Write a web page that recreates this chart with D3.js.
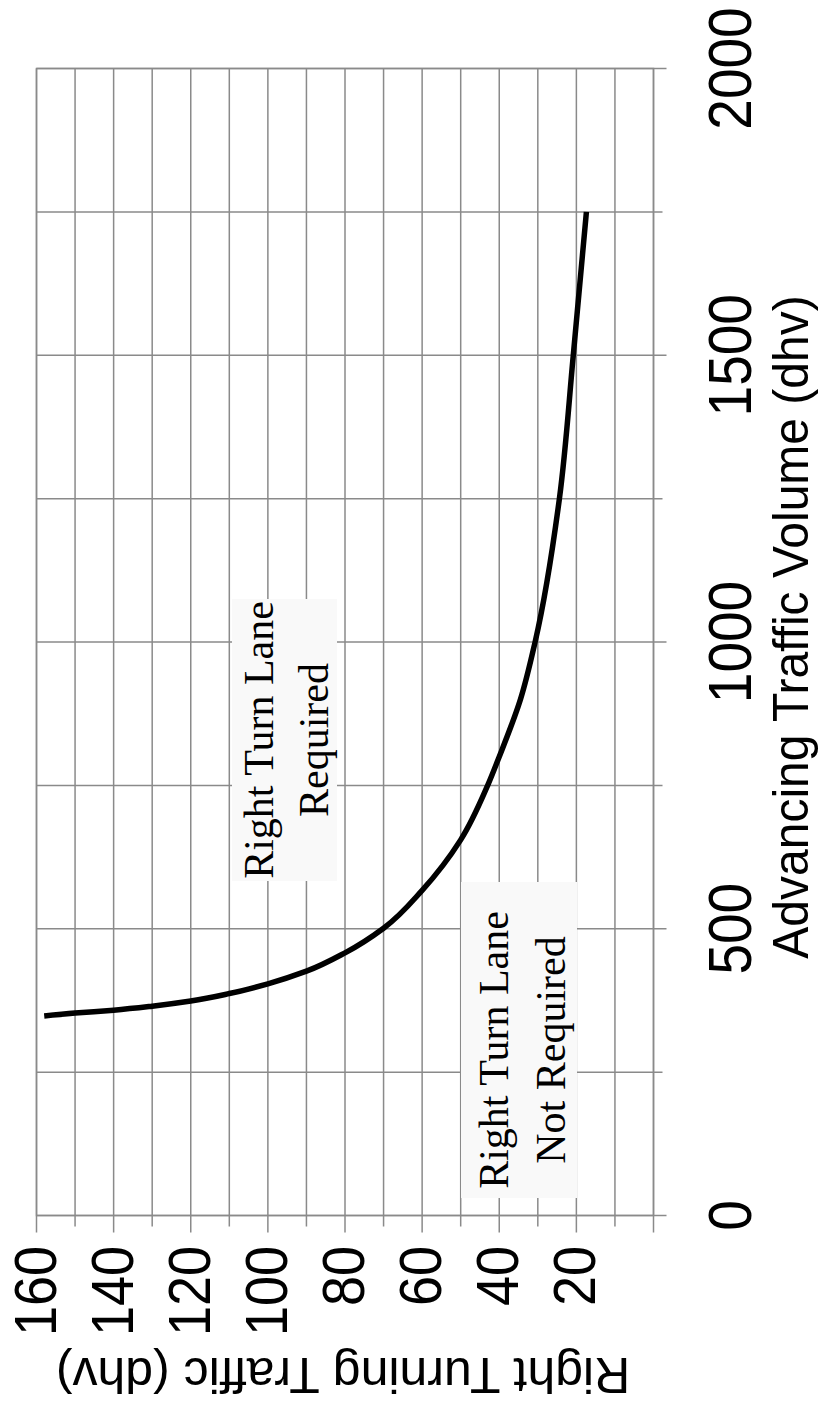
<!DOCTYPE html>
<html>
<head>
<meta charset="utf-8">
<script src="https://cdn.jsdelivr.net/npm/d3@7"></script>
<style>
  html, body { margin: 0; padding: 0; background: #ffffff; }
  svg { display: block; }
</style>
</head>
<body>
<svg id="chart" width="822" height="1406"></svg>
<script>
// ---- data ----
const volumeTicks = [0, 500, 1000, 1500, 2000];
const volumeMinorTicks = [250, 750, 1250, 1750];
const turnTicks = [20, 40, 60, 80, 100, 120, 140, 160];
const turnMajorNoLabel = [0];
const turnMinorTicks = [10, 30, 50, 70, 90, 110, 130, 150];

const advancingVolume = [348, 353, 358, 365, 374, 387, 404, 426, 458, 501, 567, 655, 750, 800, 900, 1000, 1250, 1500, 1750];
const rightTurning    = [158, 150, 140, 130, 120, 110, 100,  90,  80,  70,  60,  50,  43,  40, 34.5, 30.7, 24.4, 20.8, 17.4];

const xTitle = "Advancing Traffic Volume (dhv)";
const yTitle = "Right Turning Traffic (dhv)";
const noteRequired = ["Right Turn Lane", "Required"];
const noteNotRequired = ["Right Turn Lane", "Not Required"];

// ---- layout (chart is drawn rotated 90° counter-clockwise) ----
const svg = d3.select("#chart");
const plot = { left: 36.5, right: 653.5, top: 68.5, bottom: 1215.5 };
const gridColor = "#8a8a8a";

// volume -> vertical page position, right-turn -> horizontal page position
const vScale = d3.scaleLinear().domain([0, 2000]).range([plot.bottom, plot.top]);
const tScale = d3.scaleLinear().domain([0, 160]).range([plot.right, plot.left]);

const g = svg.append("g");

// gridlines for right-turning traffic (vertical in page) with tick extensions
const allTurn = turnMinorTicks.map(v => ({v, major: false}))
  .concat(turnTicks.concat(turnMajorNoLabel).map(v => ({v, major: true})));
g.selectAll("line.tgrid").data(allTurn).join("line")
  .attr("class", "tgrid")
  .attr("x1", d => tScale(d.v)).attr("x2", d => tScale(d.v))
  .attr("y1", plot.top).attr("y2", d => plot.bottom + (d.major ? 17 : 11))
  .attr("stroke", gridColor).attr("stroke-width", 1.5);

// gridlines for volume (horizontal in page)
const allVol = volumeMinorTicks.map(v => ({v, major: false}))
  .concat(volumeTicks.map(v => ({v, major: true})));
g.selectAll("line.vgrid").data(allVol).join("line")
  .attr("class", "vgrid")
  .attr("y1", d => vScale(d.v)).attr("y2", d => vScale(d.v))
  .attr("x1", plot.left).attr("x2", d => plot.right + (d.major ? 13 : 9))
  .attr("stroke", gridColor).attr("stroke-width", 1.5);

// annotation boxes (cover gridlines)
function note(lines, cy, baselines, box) {
  g.append("rect")
    .attr("x", box[0]).attr("y", box[1])
    .attr("width", box[2] - box[0]).attr("height", box[3] - box[1])
    .attr("fill", "#f9f9f9");
  lines.forEach((t, i) => {
    g.append("text")
      .attr("transform", `translate(${baselines[i]},${cy}) rotate(-90)`)
      .attr("text-anchor", "middle")
      .attr("font-family", "'Liberation Serif', 'Times New Roman', serif")
      .attr("font-size", 42)
      .attr("fill", "#000")
      .text(t);
  });
}
note(noteRequired, 740, [273, 328], [232, 599, 337, 881]);
note(noteNotRequired, 1050, [508, 565], [461, 882, 577, 1198]);

// plot border on top
g.append("rect")
  .attr("x", plot.left).attr("y", plot.top)
  .attr("width", plot.right - plot.left).attr("height", plot.bottom - plot.top)
  .attr("fill", "none").attr("stroke", gridColor).attr("stroke-width", 1.5);

// curve
const pts = advancingVolume.map((v, i) => [v, rightTurning[i]]);
const line = d3.line()
  .x(d => tScale(d[1]))
  .y(d => vScale(d[0]))
  .curve(d3.curveMonotoneY);
g.append("path")
  .datum(pts)
  .attr("d", line)
  .attr("fill", "none")
  .attr("stroke", "#000")
  .attr("stroke-width", 5.5);

const sans = "'Liberation Sans', Arial, Helvetica, sans-serif";

// right-turn tick labels (bottom, rotated)
g.selectAll("text.tlab").data(turnTicks).join("text")
  .attr("class", "tlab")
  .attr("transform", d => `translate(${tScale(d) + 19},1246) rotate(-90) scale(1,1.09)`)
  .attr("text-anchor", "end")
  .attr("font-family", sans).attr("font-size", 54).attr("fill", "#000")
  .text(d => d);

// volume tick labels (right, rotated)
g.selectAll("text.vlab").data(volumeTicks).join("text")
  .attr("class", "vlab")
  .attr("transform", d => `translate(751,${vScale(d)}) rotate(-90) scale(1,1.1)`)
  .attr("text-anchor", "middle")
  .attr("font-family", sans).attr("font-size", 55).attr("fill", "#000")
  .text(d => d);

// axis titles
g.append("text")
  .attr("transform", `translate(808,627) rotate(-90) scale(1,1.06)`)
  .attr("text-anchor", "middle")
  .attr("font-family", sans).attr("font-size", 48).attr("fill", "#000")
  .text(xTitle);

g.append("text")
  .attr("transform", `translate(343,1358) rotate(180)`)
  .attr("text-anchor", "middle")
  .attr("font-family", sans).attr("font-size", 50).attr("fill", "#000")
  .text(yTitle);
</script>
</body>
</html>
